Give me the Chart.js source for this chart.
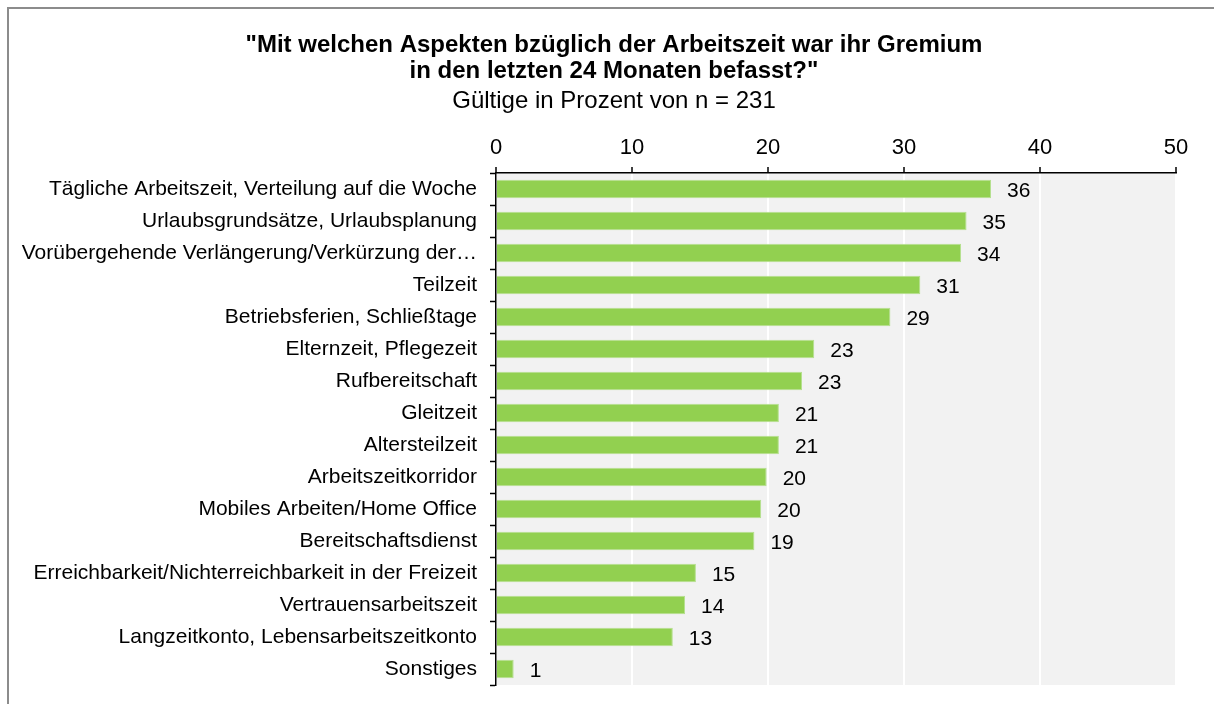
<!DOCTYPE html>
<html>
<head>
<meta charset="utf-8">
<script src="https://cdn.jsdelivr.net/npm/chart.js@4/dist/chart.umd.min.js"></script>
<style>
  html, body { margin: 0; padding: 0; background: #ffffff; }
  #wrap { width: 1214px; height: 704px; position: relative; }
</style>
</head>
<body>
<div id="wrap"><canvas id="c"></canvas></div>
<script>
const titleLines = ['"Mit welchen Aspekten bzüglich der Arbeitszeit war ihr Gremium', 'in den letzten 24 Monaten befasst?"'];
const subtitleText = 'Gültige in Prozent von n = 231';
const categories = [
  'Tägliche Arbeitszeit, Verteilung auf die Woche',
  'Urlaubsgrundsätze, Urlaubsplanung',
  'Vorübergehende Verlängerung/Verkürzung der…',
  'Teilzeit',
  'Betriebsferien, Schließtage',
  'Elternzeit, Pflegezeit',
  'Rufbereitschaft',
  'Gleitzeit',
  'Altersteilzeit',
  'Arbeitszeitkorridor',
  'Mobiles Arbeiten/Home Office',
  'Bereitschaftsdienst',
  'Erreichbarkeit/Nichterreichbarkeit in der Freizeit',
  'Vertrauensarbeitszeit',
  'Langzeitkonto, Lebensarbeitszeitkonto',
  'Sonstiges'
];
const values = [36.4, 34.6, 34.2, 31.2, 29.0, 23.4, 22.5, 20.8, 20.8, 19.9, 19.5, 19.0, 14.7, 13.9, 13.0, 1.3];
const axisMin = 0, axisMax = 50, axisStep = 10;

const FONT = '"Liberation Sans", Arial, Helvetica, sans-serif';

const framePlugin = {
  id: 'framePlugin',
  beforeDraw(chart) {
    const ctx = chart.ctx, a = chart.chartArea;
    ctx.save();
    ctx.fillStyle = '#ffffff';
    ctx.fillRect(0, 0, chart.width, chart.height);
    ctx.fillStyle = '#8c8c8c';
    ctx.fillRect(7, 7, 2, chart.height);
    ctx.fillRect(7, 7, chart.width, 2);
    ctx.fillStyle = '#f2f2f2';
    ctx.fillRect(a.left, a.top, a.right - a.left, a.bottom - a.top);
    ctx.restore();
  },
  afterDraw(chart) {
    const ctx = chart.ctx;
    ctx.save();
    ctx.fillStyle = '#000';
    ctx.textAlign = 'center';
    ctx.textBaseline = 'alphabetic';
    const cx = 614;
    ctx.font = 'bold 24px ' + FONT;
    ctx.fillText(titleLines[0], cx, 52);
    ctx.fillText(titleLines[1], cx, 78);
    ctx.font = '24px ' + FONT;
    ctx.fillText(subtitleText, cx, 108);
    // value labels
    const meta = chart.getDatasetMeta(0);
    ctx.font = '21px ' + FONT;
    ctx.textAlign = 'left';
    ctx.textBaseline = 'middle';
    meta.data.forEach((bar, i) => {
      ctx.fillText(String(Math.round(values[i])), bar.x + 16, bar.y + 2);
    });
    ctx.restore();
  }
};

new Chart(document.getElementById('c'), {
  type: 'bar',
  data: {
    labels: categories,
    datasets: [{
      data: values,
      backgroundColor: '#92d050',
      borderColor: '#b5e08e',
      borderWidth: 1,
      barPercentage: 0.58,
      categoryPercentage: 1.0
    }]
  },
  options: {
    indexAxis: 'y',
    responsive: true,
    maintainAspectRatio: false,
    animation: false,
    layout: { padding: { top: 122, right: 38, bottom: 19, left: 0 } },
    plugins: { legend: { display: false }, tooltip: { enabled: false }, title: { display: false } },
    scales: {
      x: {
        position: 'top',
        min: axisMin, max: axisMax,
        afterFit(scale) { scale.height = 51; scale.paddingLeft = 0; scale.paddingRight = 0; },
        ticks: { stepSize: axisStep, color: '#000', font: { family: FONT, size: 22 }, padding: 6 },
        grid: { color: '#ffffff', lineWidth: 2, drawTicks: true, tickLength: 6, tickColor: '#000', tickWidth: 1.5 },
        border: { color: '#000', width: 1.5 }
      },
      y: {
        afterFit(scale) { scale.width = 496; scale.paddingTop = 0; scale.paddingBottom = 0; },
        ticks: { color: '#000', font: { family: FONT, size: 21 }, padding: 13, autoSkip: false },
        grid: { drawOnChartArea: false, drawTicks: true, tickLength: 6, tickColor: '#000', tickWidth: 1.5, offset: true },
        border: { color: '#000', width: 1.5 }
      }
    }
  },
  plugins: [framePlugin]
});
</script>
</body>
</html>
